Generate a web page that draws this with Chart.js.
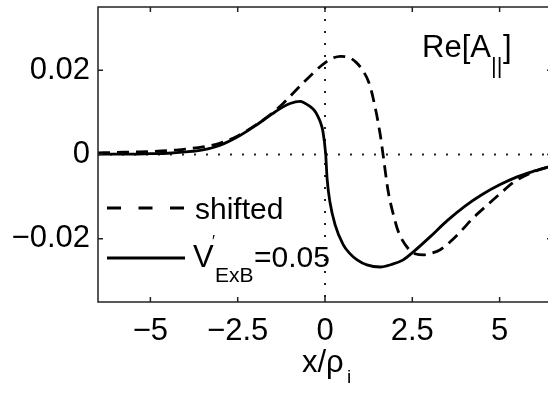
<!DOCTYPE html>
<html>
<head>
<meta charset="utf-8">
<script src="https://cdn.jsdelivr.net/npm/chart.js@4/dist/chart.umd.min.js"></script>
<style>
  html, body { margin: 0; padding: 0; background: #fff; overflow: hidden; }
  #wrap { width: 553px; height: 395px; }
</style>
</head>
<body>
<div id="wrap"><canvas id="grafico" width="553" height="395"></canvas></div>
<script>
// datos
var xSolido = [-6.5, -6, -5.5, -5, -4.5, -4, -3.5, -3, -2.5, -2, -1.5, -1.2, -1, -0.72, -0.6, -0.43, -0.3, -0.2, -0.12, -0.06, 0.02, 0.06, 0.14, 0.29, 0.52, 0.7, 0.92, 1.2, 1.58, 1.9, 2.24, 2.53, 3, 3.5, 4, 4.5, 5, 5.5, 6, 6.5];
var ySolido = [0.0001, 0.0001, 0.0001, 0.0002, 0.0003, 0.0006, 0.0011, 0.0022, 0.0042, 0.0068, 0.0097, 0.0113, 0.0121, 0.0126, 0.0123, 0.0114, 0.0104, 0.0090, 0.0074, 0.0055, 0.0, -0.0057, -0.0112, -0.0167, -0.0214, -0.0234, -0.0250, -0.0262, -0.0267, -0.0261, -0.0250, -0.0231, -0.0196, -0.0157, -0.0123, -0.0095, -0.0072, -0.0053, -0.0039, -0.0027];

var xShifted = [-6.5, -6, -5.5, -5, -4.5, -4, -3.5, -3, -2.5, -2, -1.5, -1.2, -0.86, -0.6, -0.34, -0.06, 0.2, 0.45, 0.72, 0.9, 1.06, 1.25, 1.38, 1.58, 1.67, 1.81, 1.95, 2.1, 2.4, 2.6, 2.82, 3.05, 3.3, 3.6, 3.88, 4.25, 4.66, 5, 5.4, 6, 6.5];
var yShifted = [0.0004, 0.0005, 0.0006, 0.0007, 0.0009, 0.0013, 0.0018, 0.0027, 0.0044, 0.0069, 0.0099, 0.0121, 0.0150, 0.0172, 0.0193, 0.0214, 0.0228, 0.0233, 0.0229, 0.0218, 0.0202, 0.0172, 0.0133, 0.0048, -0.0005, -0.0088, -0.0140, -0.0183, -0.0225, -0.0236, -0.0238, -0.0234, -0.0226, -0.0206, -0.0183, -0.0150, -0.0119, -0.0094, -0.0066, -0.0040, -0.0027];

var xTicks = [-5, -2.5, 0, 2.5, 5];
var xTickLabels = ['\u22125', '\u22122.5', '0', '2.5', '5'];
var yTicks = [-0.02, 0, 0.02];
var yTickLabels = ['\u22120.02', '0', '0.02'];

var fuente = '"Liberation Sans", Arial, Helvetica, sans-serif';

function puntos(xs, ys) {
    return xs.map(function(x, i) { return { x: x, y: ys[i] }; });
}

// marco, ticks internos, lineas punteadas, textos
var marco = {
    id: 'marco',
    beforeDatasetsDraw: function(chart) {
        var ctx = chart.ctx, a = chart.chartArea;
        var x0 = chart.scales.x.getPixelForValue(0);
        var y0 = chart.scales.y.getPixelForValue(0);
        ctx.save();
        ctx.strokeStyle = '#222';
        ctx.lineWidth = 2;
        ctx.setLineDash([2, 10]);
        ctx.beginPath();
        ctx.moveTo(a.left, y0); ctx.lineTo(a.right, y0);
        ctx.moveTo(x0, a.top); ctx.lineTo(x0, a.bottom);
        ctx.stroke();
        ctx.restore();
    },
    afterDraw: function(chart) {
        var ctx = chart.ctx, a = chart.chartArea;
        var sx = chart.scales.x, sy = chart.scales.y;
        ctx.save();
        ctx.strokeStyle = '#222';
        ctx.lineWidth = 1.5;
        ctx.strokeRect(a.left, a.top, a.right - a.left, a.bottom - a.top);
        ctx.beginPath();
        xTicks.forEach(function(v) {
            var p = sx.getPixelForValue(v);
            ctx.moveTo(p, a.bottom); ctx.lineTo(p, a.bottom - 5);
            ctx.moveTo(p, a.top); ctx.lineTo(p, a.top + 5);
        });
        yTicks.forEach(function(v) {
            var p = sy.getPixelForValue(v);
            ctx.moveTo(a.left, p); ctx.lineTo(a.left + 5, p);
            ctx.moveTo(a.right, p); ctx.lineTo(a.right - 5, p);
        });
        ctx.stroke();

        ctx.fillStyle = '#000';
        ctx.textBaseline = 'alphabetic';
        ctx.textAlign = 'left';

        // Re[A||]
        ctx.font = '31px ' + fuente;
        ctx.fillText('Re[A', 422, 57);
        ctx.font = '22px ' + fuente;
        ctx.fillText('||', 491, 73);
        ctx.font = '31px ' + fuente;
        ctx.fillText(']', 503, 57);

        // leyenda
        ctx.strokeStyle = '#000';
        ctx.lineWidth = 2.8;
        ctx.setLineDash([14, 17.5]);
        ctx.beginPath();
        ctx.moveTo(107, 208); ctx.lineTo(185, 208);
        ctx.stroke();
        ctx.setLineDash([]);
        ctx.beginPath();
        ctx.moveTo(107, 258); ctx.lineTo(185, 258);
        ctx.stroke();

        ctx.font = '30px ' + fuente;
        ctx.fillText('shifted', 195, 219);
        ctx.font = '31px ' + fuente;
        ctx.fillText('V', 193, 267);
        ctx.font = '16px ' + fuente;
        ctx.fillText('\u2032', 212, 247);
        ctx.font = '21px ' + fuente;
        ctx.fillText('ExB', 215, 282);
        ctx.font = '30px ' + fuente;
        ctx.fillText('=0.05', 254, 267);

        // titulo eje x
        ctx.font = '31px ' + fuente;
        ctx.fillText('x/\u03c1', 302, 372);
        ctx.font = '19px ' + fuente;
        ctx.fillText('i', 347, 383);
        ctx.restore();
    }
};

var grafico = new Chart(document.getElementById('grafico'), {
    type: 'scatter',
    plugins: [marco],
    data: {
        datasets: [
            {
                label: 'shifted',
                data: puntos(xShifted, yShifted),
                showLine: true,
                borderColor: '#000',
                borderWidth: 2.8,
                borderDash: [12, 7],
                pointRadius: 0,
                cubicInterpolationMode: 'monotone'
            },
            {
                label: 'V ExB=0.05',
                data: puntos(xSolido, ySolido),
                showLine: true,
                borderColor: '#000',
                borderWidth: 2.8,
                pointRadius: 0,
                cubicInterpolationMode: 'monotone'
            }
        ]
    },
    options: {
        responsive: false,
        animation: false,
        layout: { padding: { left: 0, top: 7, right: 1, bottom: 0 } },
        plugins: {
            legend: { display: false },
            tooltip: { enabled: false }
        },
        scales: {
            x: {
                type: 'linear',
                min: -6.5,
                max: 6.5,
                grid: { display: false, drawTicks: false },
                border: { display: false },
                afterBuildTicks: function(s) { s.ticks = xTicks.map(function(v) { return { value: v }; }); },
                afterFit: function(s) { s.height = 93; s.paddingLeft = 0; s.paddingRight = 0; },
                ticks: {
                    color: '#000',
                    padding: 11,
                    maxRotation: 0,
                    font: { family: fuente, size: 31 },
                    callback: function(v, i) { return xTickLabels[i]; }
                }
            },
            y: {
                type: 'linear',
                min: -0.035,
                max: 0.035,
                grid: { display: false, drawTicks: false },
                border: { display: false },
                afterBuildTicks: function(s) { s.ticks = yTicks.map(function(v) { return { value: v }; }); },
                afterFit: function(s) { s.width = 98; s.paddingTop = 0; s.paddingBottom = 0; },
                ticks: {
                    color: '#000',
                    padding: 8,
                    font: { family: fuente, size: 31 },
                    callback: function(v, i) { return yTickLabels[i]; }
                }
            }
        }
    }
});
</script>
</body>
</html>
